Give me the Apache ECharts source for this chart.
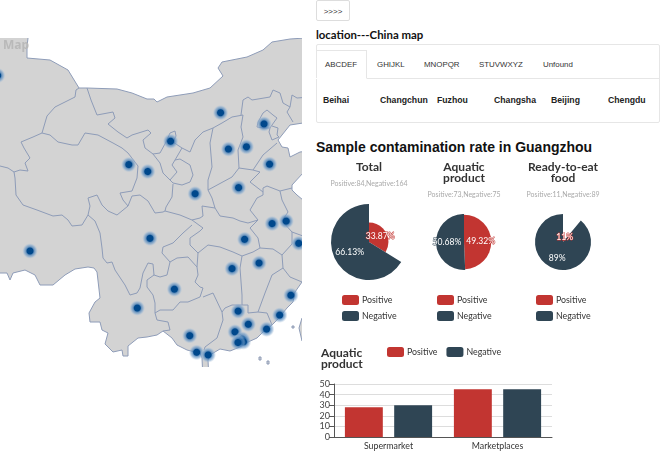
<!DOCTYPE html>
<html><head><meta charset="utf-8">
<script src="https://cdn.jsdelivr.net/npm/echarts@6/dist/echarts.min.js"></script>
<style>
html,body{margin:0;padding:0;background:#fff;width:660px;height:451px;overflow:hidden}
body{font-family:"Liberation Sans",Arial,sans-serif;color:#222;position:relative}
.abs{position:absolute;white-space:nowrap}
#mapChart{position:absolute;left:0;top:38px;width:302px;height:329px}
#panelChart{position:absolute;left:310px;top:155px;width:350px;height:296px}
#btn{left:316px;top:0;width:32px;height:19px;border:1px solid #ddd;border-radius:2px;font-size:8px;line-height:21px;text-align:center;color:#333}
#h1{left:316px;top:27px;font:bold 11.4px/15px Lato,sans-serif;color:#111}
#panel{left:316px;top:44px;width:342px;height:77px;border:1px solid #e6e6e6;border-radius:2px}
#tabline{left:316px;top:78px;width:344px;height:1px;background:#e6e6e6}
#activeTab{left:316px;top:50px;width:51px;height:29px;border:1px solid #e6e6e6;border-bottom:1px solid #fff;border-left:none;box-sizing:border-box}
.tab{top:59px;font-size:7.9px;line-height:12px;color:#333}
.city{top:94px;font-size:8.7px;font-weight:bold;line-height:12px;color:#222}
#h2{left:316px;top:138px;font-size:14px;font-weight:bold;line-height:18px;color:#111}
</style></head><body>
<div id="mapChart"></div>
<div id="btn" class="abs">&gt;&gt;&gt;&gt;</div>
<div id="h1" class="abs">location---China map</div>
<div id="panel" class="abs"></div>
<div id="tabline" class="abs"></div>
<div id="activeTab" class="abs"></div>
<div id="tabs"></div>
<div id="h2" class="abs">Sample contamination rate in Guangzhou</div>
<div id="panelChart"></div>
<script>
// ---------- text ----------
const tabNames = ['ABCDEF','GHIJKL','MNOPQR','STUVWXYZ','Unfound'];
const tabLefts = [325,377,424,479,543];
const listedCities = ['Beihai','Changchun','Fuzhou','Changsha','Beijing','Chengdu'];
const listedLefts = [323,380,437,494,551,608];

// ---------- sampled cities (real lon / lat) ----------
const cityNames = ['Urumqi','Hohhot','Beijing','Yinchuan','Taiyuan','Shijiazhuang','Jinan','Xining','Lanzhou','Xian','Zhengzhou','Hefei','Nanjing','Chengdu','Wuhan','Hangzhou','Lhasa','Changsha','Nanchang','Guiyang','Kunming','Fuzhou','Xiamen','Shaoguan','Heyuan','Shantou','Guangzhou','Shenzhen','Hong Kong','Zhuhai','Nanning','Beihai','Zhanjiang'];
const cityLons = [87.6,111.7,116.4,106.3,112.55,114.5,117,101.78,103.83,108.95,113.65,117.27,118.8,104.07,114.3,120.15,91.1,112.94,115.86,106.71,102.7,119.3,118.09,113.6,114.7,116.68,113.26,114.05,114.17,113.58,108.37,109.12,110.36];
const cityLats = [43.8,40.8,39.9,38.5,37.87,38.05,36.65,36.62,36.06,34.27,34.76,31.86,32.06,30.67,30.59,30.27,29.65,28.23,28.68,26.57,25.05,26.08,24.48,24.8,23.74,23.35,23.13,22.55,22.32,22.27,22.82,21.48,21.27];

// ---------- pies / bars ----------
const legendNames = ['Positive','Negative'];
const pieTitles = ['Total','Aquatic\nproduct','Ready-to-eat\nfood'];
const pieSubs = ['Positive:84,Negative:164','Positive:73,Negative:75','Positive:11,Negative:89'];
const piePositive = [84,73,11];
const pieNegative = [164,75,89];
const barTitle = 'Aquatic\nproduct';
const barCategories = ['Supermarket','Marketplaces'];
const barPositive = [28,45];
const barNegative = [30,45];
const palette = ['#c23531','#2f4554'];

// ---------- background geography, traced outlines ----------
const landOutline = [[-10,20],[28,20],[28,38],[27,47],[27,58],[50,60],[68,70],[79,88],[87,88],[117,89],[132,93],[147,99],[154,99],[157,102],[167,97],[193,93],[210,88],[223,76],[218,68],[222,62],[232,60],[247,57],[263,50],[272,42],[290,39],[320,37],[320,123],[303,123],[290,125],[282,135],[278,140],[282,147],[288,148],[290,157],[300,152],[320,150],[320,172],[303,173],[292,185],[292,190],[297,195],[303,200],[320,200],[320,282],[302,282],[295,292],[293,302],[287,308],[277,320],[272,325],[263,332],[257,338],[248,342],[240,347],[230,351],[220,349],[210,355],[208,360],[209,380],[203,380],[202,358],[200,353],[195,352],[187,350],[177,345],[172,338],[163,331],[157,335],[147,337],[138,338],[128,346],[128,356],[123,356],[122,350],[113,352],[105,344],[108,333],[102,330],[100,322],[90,322],[89,313],[95,302],[100,298],[97,272],[94,268],[88,267],[75,269],[65,275],[53,285],[40,285],[35,275],[25,270],[13,273],[10,280],[7,273],[-10,273]];
const islandOutlines = [[[299,328],[302,318],[320,318],[320,345],[302,341]],[[292,326],[294,326],[294,328],[292,328]],[[259,357],[261,357],[261,360],[259,360]],[[267,361],[269,361],[269,364],[267,364]]];
const borderLines = [
 [[79,88],[76,90],[75,97],[65,102],[55,107],[47,116],[42,133],[33,137],[21,142],[24,148],[30,158],[25,163],[28,171],[20,170],[14,172],[8,168],[0,166],[-5,166]],
 [[14,172],[15,178],[16,195],[23,205],[37,210],[53,216],[62,215],[68,220],[72,226],[82,225],[88,215],[90,206],[88,198],[97,195],[102,205],[108,211],[117,215],[128,206],[123,200],[120,193],[132,191],[137,178],[138,166],[128,153],[122,148],[113,143],[98,135],[85,133],[78,145],[72,145],[58,142],[50,135],[42,133]],
 [[88,215],[95,221],[100,233],[102,248],[103,258],[107,263],[112,262],[115,270],[125,285],[130,295],[137,293],[140,288],[143,273],[148,263],[153,264],[154,275],[160,277],[167,275],[170,262]],
 [[128,206],[132,196],[140,195],[148,201],[155,213],[163,212],[165,211],[180,215],[192,220],[203,228],[200,231],[190,238],[190,245],[198,253]],
 [[87,88],[91,100],[97,115],[113,112],[115,118],[108,124],[118,132],[127,138],[132,135],[148,130],[151,133],[143,140],[145,148],[153,154],[160,153],[166,142],[170,133],[175,131],[176,136],[173,142],[182,148],[175,160],[172,165],[177,172],[170,180],[163,173],[160,163],[153,154]],
 [[175,160],[180,159],[190,165],[193,175],[190,182],[182,185],[173,183],[170,180]],
 [[173,184],[172,197],[166,207],[165,211]],
 [[182,148],[190,152],[195,140],[203,132],[213,128],[222,123],[232,117],[243,115],[241,127],[243,137],[238,150],[239,168],[232,177],[208,190]],
 [[213,128],[210,143],[212,167],[208,180],[208,190],[212,198],[215,208],[220,216],[233,218],[240,221],[248,223],[258,220]],
 [[241,115],[243,100],[248,97],[252,100],[270,97],[273,90],[280,93],[283,103],[290,107],[292,95],[297,98],[310,97]],
 [[290,107],[287,112],[293,122]],
 [[258,122],[263,113],[267,110],[273,115],[277,118],[272,125],[270,128],[263,128],[257,127],[258,122]],
 [[272,126],[278,128],[277,135],[279,137],[272,140],[269,132],[270,128]],
 [[277,143],[263,155],[255,167],[253,170],[260,172],[250,182],[263,192]],
 [[239,168],[253,170]],
 [[263,188],[267,186],[280,191],[282,200],[288,212],[282,221],[292,232],[303,236]],
 [[280,191],[292,188]],
 [[263,188],[263,195],[257,198],[250,210],[258,220],[250,228],[258,238],[260,248],[273,249],[282,255],[292,244],[292,232]],
 [[215,208],[202,206],[203,216],[200,218],[192,220]],
 [[192,225],[183,233],[173,243],[163,247],[162,253],[170,262],[177,258],[188,257],[197,267],[198,275],[195,282],[200,287],[203,288],[200,297],[188,302],[180,302],[173,310],[160,310],[155,313],[155,303],[153,295],[147,287],[147,280],[154,275]],
 [[198,253],[208,245],[220,247],[233,252],[242,256],[253,252],[260,248]],
 [[198,253],[197,267]],
 [[242,256],[240,268],[242,295],[242,305],[232,305],[225,308],[222,312],[213,293],[203,297]],
 [[155,313],[157,320],[168,322],[170,330],[163,331]],
 [[222,312],[223,320],[217,338],[205,347],[204,350]],
 [[242,305],[248,305],[248,313],[258,312],[267,313],[272,325]],
 [[258,312],[265,293],[272,275],[283,268],[282,255]],
 [[283,268],[290,277],[302,282]]
];
// traced outlines are scaled to lon/lat so that they share the cities' coordinate system
const toLonLat = p => [91.1 + (p[0]-30)/9.25, 29.65 - (p[1]-251)/12.4];

// ---------- html text ----------
const tabsEl = document.getElementById('tabs');
tabNames.forEach((t,i)=>{const d=document.createElement('div');d.className='abs tab';d.style.left=tabLefts[i]+'px';d.textContent=t;tabsEl.appendChild(d);});
listedCities.forEach((t,i)=>{const d=document.createElement('div');d.className='abs city';d.style.left=listedLefts[i]+'px';d.textContent=t;tabsEl.appendChild(d);});

// ---------- map ----------
const ring = r => { const c = r.map(toLonLat); c.push(c[0]); return [c]; };
echarts.registerMap('chinaTrace',{type:'FeatureCollection',features:[{type:'Feature',properties:{name:'land'},geometry:{type:'MultiPolygon',coordinates:[ring(landOutline)].concat(islandOutlines.map(ring))}}]});
const mapColor='#8e9cb8';
const glow=new echarts.graphic.RadialGradient(0.5,0.5,0.5,[
  {offset:0,color:'#00488c'},{offset:0.38,color:'#00488c'},
  {offset:0.52,color:'rgba(60,120,180,0.7)'},{offset:0.75,color:'rgba(125,165,205,0.55)'},{offset:1,color:'rgba(190,205,220,0)'}]);
const mapChart = echarts.init(document.getElementById('mapChart'),null,{renderer:'canvas'});
mapChart.setOption({
  animation:false,
  title:{text:'Map',left:3,top:2,padding:0,textStyle:{color:'#b9b9b9',fontSize:12,fontWeight:'bold',fontFamily:'"Noto Sans",sans-serif'}},
  geo:{map:'chinaTrace',roam:false,silent:true,aspectScale:9.25/12.4,
    layoutCenter:[155,162],layoutSize:360,
    label:{show:false},
    itemStyle:{areaColor:'#d3d3d3',borderColor:mapColor,borderWidth:1},
    emphasis:{disabled:true}},
  series:[
   {type:'lines',coordinateSystem:'geo',polyline:true,silent:true,z:3,
    lineStyle:{color:mapColor,width:1,opacity:1,curveness:0},
    data:borderLines.map(l=>({coords:l.map(toLonLat)}))},
   {type:'scatter',coordinateSystem:'geo',silent:true,z:5,symbolSize:16,
    itemStyle:{color:glow,opacity:1},
    data:cityNames.map((n,i)=>({name:n,value:[cityLons[i],cityLats[i]]}))}
  ]
});

// ---------- pies + bars ----------
const font='Lato,sans-serif';
const pieCx=[59,154,253], pieCy=[87,87,87], pieR=[38,28,28];
const titles=pieTitles.map((t,i)=>({text:t,subtext:pieSubs[i],left:pieCx[i],top:7,textAlign:'center',padding:0,itemGap:6,
  textStyle:{color:'#333',fontSize:12,fontWeight:'bold',lineHeight:11,fontFamily:font},
  subtextStyle:{color:'#aaa',fontSize:7,fontFamily:font}}));
titles.push({text:barTitle,left:11,top:193,padding:0,textStyle:{color:'#333',fontSize:12,fontWeight:'bold',lineHeight:11,fontFamily:font}});
const legendText={color:'#333',fontSize:8.8,fontFamily:font,padding:[0,0,0,-2]};
const legends=pieCx.map(c=>({data:legendNames,orient:'vertical',left:c-27,top:140,itemWidth:17,itemHeight:10,itemGap:6,padding:0,textStyle:legendText}));
legends.push({data:legendNames,orient:'horizontal',left:77,top:192,itemWidth:17,itemHeight:10,itemGap:9,padding:0,textStyle:legendText});
const pies=pieCx.map((c,i)=>({type:'pie',roseType:'radius',center:[c,pieCy[i]],radius:[0,pieR[i]],silent:true,animation:false,
  color:palette,
  label:{show:true,position:'inside',formatter:'{d}%',color:'#fff',fontSize:8.6,fontFamily:font,textBorderWidth:1},
  labelLine:{show:false},
  data:[{name:legendNames[0],value:piePositive[i],label:{textBorderColor:palette[0]}},{name:legendNames[1],value:pieNegative[i],label:{textBorderColor:palette[1]}}]}));
const panel=echarts.init(document.getElementById('panelChart'),null,{renderer:'canvas'});
panel.setOption({
  animation:false,color:palette,
  title:titles,legend:legends,
  grid:{left:24,right:108,top:229,bottom:13,containLabel:false},
  xAxis:{type:'category',data:barCategories,axisLine:{lineStyle:{color:'#555'}},axisTick:{lineStyle:{color:'#555'}},axisLabel:{color:'#333',fontSize:8.8,margin:5,fontFamily:font}},
  yAxis:{type:'value',min:0,max:50,interval:10,axisLine:{show:true,lineStyle:{color:'#555'}},axisTick:{show:true,lineStyle:{color:'#555'}},axisLabel:{color:'#444',fontSize:9,margin:4,fontFamily:font},splitLine:{lineStyle:{color:'#ddd'}}},
  series:pies.concat([
    {type:'bar',name:legendNames[0],data:barPositive,silent:true,barGap:'30%',barCategoryGap:'20%'},
    {type:'bar',name:legendNames[1],data:barNegative,silent:true,barGap:'30%',barCategoryGap:'20%'}
  ])
});
</script>
</body></html>
